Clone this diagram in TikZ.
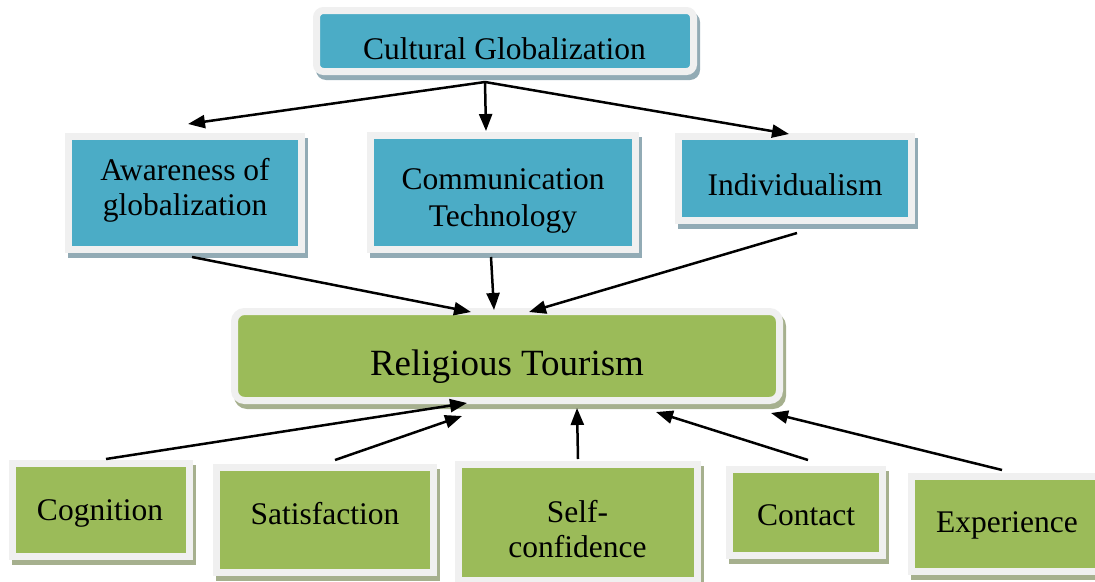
\documentclass[tikz,border=0pt]{standalone}
\usepackage{fontspec}
\setmainfont{Liberation Serif}
\usetikzlibrary{calc,arrows.meta,backgrounds}
\definecolor{blueF}{HTML}{4BACC6}
\definecolor{greenF}{HTML}{9BBB59}
\definecolor{frameC}{HTML}{F0F0F0}
\definecolor{blueSh}{HTML}{92ABB5}
\definecolor{greenSh}{HTML}{A6B08E}
\tikzset{
  frbox/.style={draw=frameC, line width=7pt, outer sep=3.5pt, inner sep=0pt, rectangle},
  bluebox/.style={frbox, fill=blueF},
  greenbox/.style={frbox, fill=greenF},
  lbl/.style={inner sep=0pt, align=center, text=black, font=\fontsize{31.5}{35}\selectfont},
  conn/.style={line width=2.5pt, -{Triangle[length=17pt,width=13pt]}},
}
\begin{document}
\begin{tikzpicture}[x=1pt,y=-1pt]
\useasboundingbox (0,0) rectangle (1095,581);
% boxes
\node[bluebox, rounded corners=7pt, minimum width=377pt, minimum height=61pt] (cg) at (505,41) {};
\node[bluebox, minimum width=233pt, minimum height=113pt] (aw) at (185,193) {};
\node[bluebox, minimum width=265pt, minimum height=114pt] (ct) at (503,192.5) {};
\node[bluebox, minimum width=233pt, minimum height=84pt] (in) at (795,178.5) {};
\node[greenbox, rounded corners=10pt, minimum width=545pt, minimum height=89pt] (rt) at (507,356) {};
\node[greenbox, minimum width=177pt, minimum height=93pt] (co) at (101,510) {};
\node[greenbox, minimum width=217pt, minimum height=105pt] (sa) at (325,520) {};
\node[greenbox, minimum width=239pt, minimum height=116pt] (sc) at (578,522.5) {};
\node[greenbox, minimum width=153pt, minimum height=86pt] (cn) at (806,512.5) {};
\node[greenbox, minimum width=190pt, minimum height=95pt] (ex) at (1006.5,524) {};
% shadows
\begin{scope}[on background layer]
  \fill[blueSh, rounded corners=10pt] ($(cg.north west)+(3,5)$) rectangle ($(cg.south east)+(3,5)$);
  \foreach \b in {aw,ct,in}
    \fill[blueSh] ($(\b.north west)+(3,5)$) rectangle ($(\b.south east)+(3,5)$);
  \fill[greenSh, rounded corners=13pt] ($(rt.north west)+(3,5)$) rectangle ($(rt.south east)+(3,5)$);
  \foreach \b in {co,sa,sc,cn,ex}
    \fill[greenSh] ($(\b.north west)+(3,5)$) rectangle ($(\b.south east)+(3,5)$);
\end{scope}
% texts
\node[lbl] (tcg) at (504.5,48.5) {Cultural Globalization};
\node[lbl] (taw) at (185,190.2) {Awareness of\\globalization};
\node[lbl, font=\fontsize{31.5}{37}\selectfont] (tct) at (503,201.2) {Communication\\Technology};
\node[lbl] (tin) at (795,184.3) {Individualism};
\node[lbl, font=\fontsize{37}{42}\selectfont] (trt) at (507,366.4) {Religious Tourism};
\node[lbl] (tco) at (100,513.7) {Cognition};
\node[lbl] (tsa) at (325,513.3) {Satisfaction};
\node[lbl] (tsc) at (577.5,528.8) {Self-\\confidence};
\node[lbl] (tcn) at (806,515.4) {Contact};
\node[lbl] (tex) at (1007,525.7) {Experience};
% connector end points
\coordinate (cgo) at ($(cg.south)+(-20,7)$);
\coordinate (awi) at ($(aw.north)+(3,-9)$);
\coordinate (cti) at ($(ct.north)+(-17,-1)$);
\coordinate (ini) at ($(in.north)+(-6,1)$);
\coordinate (awo) at ($(aw.south)+(7,4)$);
\coordinate (cto) at ($(ct.south)+(-12,4)$);
\coordinate (ino) at ($(in.south)+(2,9)$);
\coordinate (rtn1) at ($(rt.north)+(-36,4)$);
\coordinate (rtn2) at ($(rt.north)+(-13,2)$);
\coordinate (rtn3) at ($(rt.north)+(22,4)$);
\coordinate (coo) at ($(co.north)+(5,-1)$);
\coordinate (sao) at ($(sa.north)+(10,-4)$);
\coordinate (sco) at ($(sc.north)+(0,-2)$);
\coordinate (cno) at ($(cn.north)+(2,-6)$);
\coordinate (exo) at ($(ex.north)+(-4.5,-3)$);
\coordinate (rts1) at ($(rt.south)+(-40,-1)$);
\coordinate (rts2) at ($(rt.south)+(-45,12)$);
\coordinate (rts3) at ($(rt.south)+(70,4)$);
\coordinate (rts4) at ($(rt.south)+(149,8)$);
\coordinate (rts5) at ($(rt.south)+(264,9)$);
% connectors
\draw[conn] (cgo) -- (awi);
\draw[conn] (cgo) -- (cti);
\draw[conn] (cgo) -- (ini);
\draw[conn] (awo) -- (rtn1);
\draw[conn] (cto) -- (rtn2);
\draw[conn] (ino) -- (rtn3);
\draw[conn] (coo) -- (rts1);
\draw[conn] (sao) -- (rts2);
\draw[conn] (sco) -- (rts3);
\draw[conn] (cno) -- (rts4);
\draw[conn] (exo) -- (rts5);
\end{tikzpicture}
\end{document}
